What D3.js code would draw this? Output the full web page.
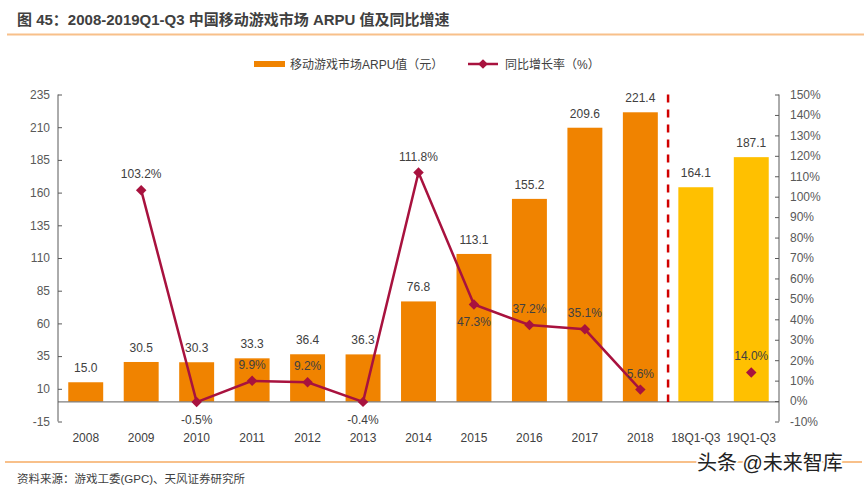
<!DOCTYPE html>
<html>
<head>
<meta charset="utf-8">
<script src="https://cdn.jsdelivr.net/npm/d3@7"></script>
<style>
  body { margin: 0; background: #fff; }
  svg { font-family: "Liberation Sans", Arial, "Noto Sans CJK SC", sans-serif; }
</style>
</head>
<body>
<div id="root"></div>
<script>
const categories = ["2008", "2009", "2010", "2011", "2012", "2013", "2014", "2015", "2016", "2017", "2018", "18Q1-Q3", "19Q1-Q3"];
const arpu = [15.0, 30.5, 30.3, 33.3, 36.4, 36.3, 76.8, 113.1, 155.2, 209.6, 221.4, 164.1, 187.1];
const growth = [null, 103.2, -0.5, 9.9, 9.2, -0.4, 111.8, 47.3, 37.2, 35.1, 5.6, null, 14.0];
// label under the marker for these ones
const growthBelow = ["2010", "2013", "2015"];
const leftTicks = [-15, 10, 35, 60, 85, 110, 135, 160, 185, 210, 235];
const rightTicks = d3.range(-10, 151, 10);

const width = 868, height = 493;
const plotL = 58, plotR = 779, plotT = 94.5, plotB = 421.5;

const svg = d3.select("#root").append("svg")
  .attr("width", width).attr("height", height);

// title + rules
svg.append("text").attr("x", 17).attr("y", 25)
  .attr("font-size", 15).attr("font-weight", "bold").attr("fill", "#404040")
  .text("图 45：2008-2019Q1-Q3 中国移动游戏市场 ARPU 值及同比增速");
svg.append("line").attr("x1", 7).attr("x2", 864).attr("y1", 34.5).attr("y2", 34.5)
  .attr("stroke", "#f8c08a").attr("stroke-width", 2);
svg.append("line").attr("x1", 5).attr("x2", 862).attr("y1", 462).attr("y2", 462)
  .attr("stroke", "#f8c08a").attr("stroke-width", 2);
svg.append("text").attr("x", 17).attr("y", 483)
  .attr("font-size", 11.5).attr("fill", "#404040")
  .text("资料来源：游戏工委(GPC)、天风证券研究所");
svg.append("text").attr("x", 697).attr("y", 470)
  .attr("font-size", 20).attr("fill", "#222")
  .attr("stroke", "#fff").attr("stroke-width", 3).attr("paint-order", "stroke")
  .text("头条 @未来智库");

const x = d3.scaleBand().domain(categories).range([plotL, plotR]).paddingInner(0.37).paddingOuter(0.185);
const y = d3.scaleLinear().domain([-15, 235]).range([plotB, plotT]);
const y2 = d3.scaleLinear().domain([-10, 150]).range([plotB, plotT]);

// bars
svg.append("g").selectAll("rect").data(categories).join("rect")
  .attr("x", d => x(d))
  .attr("width", x.bandwidth())
  .attr("y", (d, i) => y(arpu[i]))
  .attr("height", (d, i) => y(0) - y(arpu[i]))
  .attr("fill", (d, i) => i >= 11 ? "#ffc000" : "#f08300");

svg.append("g").selectAll("text").data(categories).join("text")
  .attr("x", d => x(d) + x.bandwidth() / 2)
  .attr("y", (d, i) => y(arpu[i]) - 10)
  .attr("text-anchor", "middle").attr("font-size", 12).attr("fill", "#404040")
  .text((d, i) => arpu[i].toFixed(1));

// zero baseline
svg.append("line").attr("x1", plotL).attr("x2", plotR).attr("y1", y(0)).attr("y2", y(0))
  .attr("stroke", "#7f7f7f").attr("stroke-width", 1.3);

// dashed separator
const sep = x("2018") + x.bandwidth() + (x.step() - x.bandwidth()) / 2;
svg.append("line").attr("x1", sep).attr("x2", sep).attr("y1", plotT).attr("y2", y(0))
  .attr("stroke", "#d00000").attr("stroke-width", 2.5).attr("stroke-dasharray", "8,7");

// axes
const axL = svg.append("g").attr("transform", `translate(${plotL},0)`)
  .call(d3.axisLeft(y).tickValues(leftTicks).tickSize(4).tickPadding(12).tickFormat(d => String(d)));
const axR = svg.append("g").attr("transform", `translate(${plotR},0)`)
  .call(d3.axisRight(y2).tickValues(rightTicks).tickSize(4).tickPadding(11).tickFormat(d => d + "%"));
[axL, axR].forEach(g => {
  g.select(".domain").attr("stroke", "#595959").attr("d", `M0,${plotT}V${plotB}`);
  g.selectAll(".tick line").attr("stroke", "#595959");
  g.selectAll("text").attr("font-size", 12).attr("fill", "#595959");
});
axL.attr("font-family", null);
axR.attr("font-family", null);
axL.selectAll(".tick line").attr("x2", 4);
axL.selectAll(".tick text").attr("x", -8);
axR.selectAll(".tick line").attr("x2", -4);
axR.selectAll(".tick text").attr("x", 11);

svg.append("g").selectAll("text").data(categories).join("text")
  .attr("x", d => x(d) + x.bandwidth() / 2)
  .attr("y", 442)
  .attr("text-anchor", "middle").attr("font-size", 12).attr("fill", "#404040")
  .text(d => d);

// growth line
const pts = categories.map((c, i) => ({ c, v: growth[i] }));
const lineCol = "#a8123e";
svg.append("path")
  .datum(pts.filter((p, i) => i <= 10))
  .attr("fill", "none").attr("stroke", lineCol).attr("stroke-width", 2.5)
  .attr("d", d3.line().defined(p => p.v !== null)
    .x(p => x(p.c) + x.bandwidth() / 2).y(p => y2(p.v)));

const withVal = pts.filter(p => p.v !== null);
svg.append("g").selectAll("path").data(withVal).join("path")
  .attr("transform", p => `translate(${x(p.c) + x.bandwidth() / 2},${y2(p.v)})`)
  .attr("d", d3.symbol(d3.symbolDiamond2, 70))
  .attr("fill", lineCol);

svg.append("g").selectAll("text").data(withVal).join("text")
  .attr("x", p => x(p.c) + x.bandwidth() / 2)
  .attr("y", p => growthBelow.includes(p.c) ? y2(p.v) + 22 : y2(p.v) - 12)
  .attr("text-anchor", "middle").attr("font-size", 12).attr("fill", "#404040")
  .text(p => p.v.toFixed(1) + "%");

// legend
const lg = svg.append("g").attr("font-size", 12).attr("fill", "#404040");
lg.append("rect").attr("x", 254).attr("y", 61).attr("width", 31).attr("height", 6).attr("fill", "#f08300");
lg.append("text").attr("x", 290).attr("y", 68.5).text("移动游戏市场ARPU值（元）");
lg.append("line").attr("x1", 468).attr("x2", 498).attr("y1", 64).attr("y2", 64)
  .attr("stroke", lineCol).attr("stroke-width", 2.5);
lg.append("path").attr("transform", "translate(483,64)")
  .attr("d", d3.symbol(d3.symbolDiamond2, 60)).attr("fill", lineCol);
lg.append("text").attr("x", 505).attr("y", 68.5).text("同比增长率（%）");
</script>
</body>
</html>
